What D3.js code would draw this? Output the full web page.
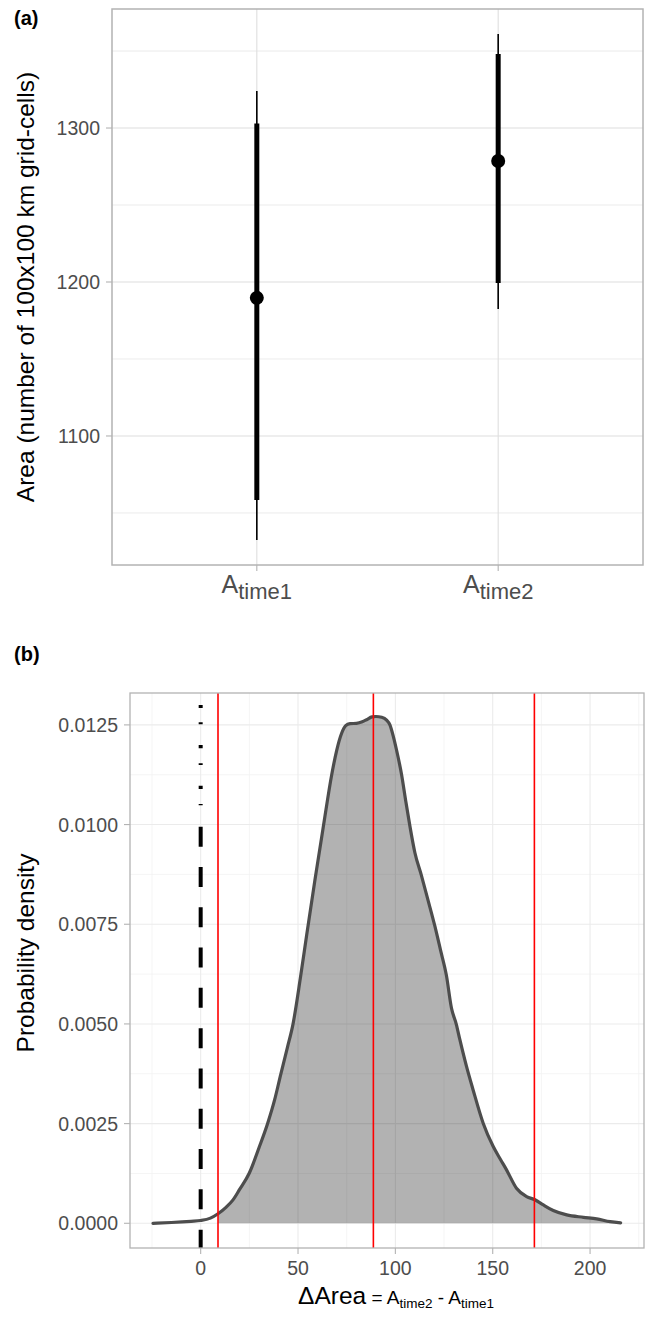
<!DOCTYPE html>
<html>
<head>
<meta charset="utf-8">
<script src="https://cdn.jsdelivr.net/npm/d3@7"></script>
<style>
  body { margin: 0; background: #fff; }
  text { font-family: "Liberation Sans", Arial, sans-serif; }
</style>
</head>
<body>
<svg id="chart" width="646" height="1318"></svg>
<script>

// Panel (a) data: area estimates per time step
const timeLabels = ['time1', 'time2']
const areaMedian = [1189.7, 1278.6]
const areaInnerLow = [1058.4, 1199.4]
const areaInnerHigh = [1303, 1348]
const areaOuterLow = [1032.5, 1182.5]
const areaOuterHigh = [1324, 1361]
const areaTicks = [1100, 1200, 1300]
const areaMinorTicks = [1050, 1150, 1250, 1350]

// Panel (b) data: posterior density of the change in area
const deltaX = [-24.5, -15, -5, 0, 5, 8.9, 13, 16.5, 20, 25, 30, 34.3, 38, 41.1, 44.5, 47.4, 51.2, 54.5,
    58.8, 63.1, 67.3, 69.9, 72.4, 74.5, 76.7, 80, 83, 85.2, 88, 90, 93, 95.5, 97.2, 99, 100.6, 103.2,
    105.3, 107.4, 110, 113.4, 116.8, 120.2, 123.2, 126.2, 128.8, 131.3, 133.1, 136.5, 139.9, 145.1,
    150.2, 154, 157.1, 162.2, 167.4, 171.7, 176, 181.1, 188, 196.6, 203.4, 210.3, 215.7]
const deltaDensity = [0, 0.00002, 0.00005, 0.00007, 0.00013, 0.00024, 0.0004, 0.00058, 0.00085, 0.00126,
    0.0019, 0.00249, 0.0031, 0.00373, 0.0044, 0.00499, 0.00615, 0.00725, 0.00865, 0.00998, 0.01125,
    0.01187, 0.01229, 0.01248, 0.01253, 0.01254, 0.01258, 0.01263, 0.0127, 0.01271, 0.01269, 0.01262,
    0.0125, 0.0122, 0.01187, 0.01125, 0.0106, 0.00998, 0.0093, 0.00872, 0.0081, 0.00747, 0.00685,
    0.00622, 0.0054, 0.00499, 0.00461, 0.00394, 0.00335, 0.00251, 0.00193, 0.0016, 0.00134, 0.00088,
    0.00067, 0.00059, 0.00046, 0.00032, 0.00021, 0.00015, 0.00011, 0.00004, 0.00001]
const deltaInterval = [8.9, 88.7, 171.4]
const deltaXTicks = [0, 50, 100, 150, 200]
const deltaXMinorTicks = [-25, 25, 75, 125, 175, 225]
const densityTicks = [0, 0.0025, 0.005, 0.0075, 0.01, 0.0125]
const densityMinorTicks = [0.00125, 0.00375, 0.00625, 0.00875, 0.01125]

const svg = d3.select('#chart')
const borderColor = '#b3b3b3'
const tickTextColor = '#4d4d4d'

// ---------- Panel (a) ----------
const a = {left: 112, right: 643, top: 9, bottom: 565}

const xA = d3.scalePoint()
    .domain(timeLabels)
    .range([a.left, a.right])
    .padding(0.6)

const yA = d3.scaleLinear()
    .domain([1016.2, 1377.3])
    .range([a.bottom, a.top])

const gA = svg.append('g').classed('panel-a', true)

// Grid
gA.selectAll('line.minor-y')
    .data(areaMinorTicks)
    .enter()
    .append('line')
    .attr('x1', a.left).attr('x2', a.right)
    .attr('y1', d => yA(d)).attr('y2', d => yA(d))
    .style('stroke', '#e6e6e6')
    .style('stroke-width', 0.8)

gA.selectAll('line.major-y')
    .data(areaTicks)
    .enter()
    .append('line')
    .attr('x1', a.left).attr('x2', a.right)
    .attr('y1', d => yA(d)).attr('y2', d => yA(d))
    .style('stroke', '#dedede')
    .style('stroke-width', 1.1)

gA.selectAll('line.major-x')
    .data(timeLabels)
    .enter()
    .append('line')
    .attr('x1', d => xA(d)).attr('x2', d => xA(d))
    .attr('y1', a.top).attr('y2', a.bottom)
    .style('stroke', '#dedede')
    .style('stroke-width', 1.1)

// Intervals
gA.selectAll('line.outer')
    .data(timeLabels)
    .enter()
    .append('line')
    .attr('x1', d => xA(d)).attr('x2', d => xA(d))
    .attr('y1', (_, i) => yA(areaOuterLow[i]))
    .attr('y2', (_, i) => yA(areaOuterHigh[i]))
    .style('stroke', '#000')
    .style('stroke-width', 1.6)

gA.selectAll('line.inner')
    .data(timeLabels)
    .enter()
    .append('line')
    .attr('x1', d => xA(d)).attr('x2', d => xA(d))
    .attr('y1', (_, i) => yA(areaInnerLow[i]))
    .attr('y2', (_, i) => yA(areaInnerHigh[i]))
    .style('stroke', '#000')
    .style('stroke-width', 5)

gA.selectAll('circle.median')
    .data(timeLabels)
    .enter()
    .append('circle')
    .attr('cx', d => xA(d))
    .attr('cy', (_, i) => yA(areaMedian[i]))
    .attr('r', 7)
    .style('fill', '#000')

// Border
gA.append('rect')
    .attr('x', a.left).attr('y', a.top)
    .attr('width', a.right - a.left).attr('height', a.bottom - a.top)
    .style('fill', 'none')
    .style('stroke', borderColor)
    .style('stroke-width', 1.5)

// Y axis ticks and labels
gA.selectAll('line.ytick')
    .data(areaTicks)
    .enter()
    .append('line')
    .attr('x1', a.left - 6).attr('x2', a.left)
    .attr('y1', d => yA(d)).attr('y2', d => yA(d))
    .style('stroke', borderColor)
    .style('stroke-width', 1.1)

gA.selectAll('text.ylabel')
    .data(areaTicks)
    .enter()
    .append('text')
    .attr('x', a.left - 12)
    .attr('y', d => yA(d))
    .attr('dy', '0.36em')
    .attr('text-anchor', 'end')
    .style('font-size', '19.5px')
    .style('fill', tickTextColor)
    .text(d => d)

// X axis ticks and labels
gA.selectAll('line.xtick')
    .data(timeLabels)
    .enter()
    .append('line')
    .attr('x1', d => xA(d)).attr('x2', d => xA(d))
    .attr('y1', a.bottom).attr('y2', a.bottom + 6)
    .style('stroke', borderColor)
    .style('stroke-width', 1.1)

const xLabA = gA.selectAll('text.xlabel')
    .data(timeLabels)
    .enter()
    .append('text')
    .attr('x', d => xA(d))
    .attr('y', a.bottom + 28)
    .attr('text-anchor', 'middle')
    .style('fill', tickTextColor)

xLabA.append('tspan').style('font-size', '25px').text('A')
xLabA.append('tspan').attr('dy', 6).style('font-size', '22px').text(d => d)

// Axis title
gA.append('text')
    .attr('transform', 'translate(34,' + ((a.top + a.bottom) / 2) + ') rotate(-90)')
    .attr('text-anchor', 'middle')
    .style('font-size', '24.5px')
    .style('fill', '#000')
    .text('Area (number of 100x100 km grid-cells)')

svg.append('text')
    .attr('x', 14).attr('y', 25)
    .style('font-size', '20px')
    .style('font-weight', 'bold')
    .text('(a)')

// ---------- Panel (b) ----------
const b = {left: 130, right: 644, top: 693, bottom: 1248}

const xB = d3.scaleLinear()
    .domain([-36.3, 227.7])
    .range([b.left, b.right])

const yB = d3.scaleLinear()
    .domain([-0.00062, 0.0133])
    .range([b.bottom, b.top])

const gB = svg.append('g').classed('panel-b', true)

gB.append('clipPath').attr('id', 'clip-b')
    .append('rect')
    .attr('x', b.left).attr('y', b.top)
    .attr('width', b.right - b.left).attr('height', b.bottom - b.top)

// Grid
gB.selectAll('line.minor-y')
    .data(densityMinorTicks)
    .enter()
    .append('line')
    .attr('x1', b.left).attr('x2', b.right)
    .attr('y1', d => yB(d)).attr('y2', d => yB(d))
    .style('stroke', '#f2f2f2')
    .style('stroke-width', 0.8)

gB.selectAll('line.minor-x')
    .data(deltaXMinorTicks)
    .enter()
    .append('line')
    .attr('x1', d => xB(d)).attr('x2', d => xB(d))
    .attr('y1', b.top).attr('y2', b.bottom)
    .style('stroke', '#f2f2f2')
    .style('stroke-width', 0.8)

gB.selectAll('line.major-y')
    .data(densityTicks)
    .enter()
    .append('line')
    .attr('x1', b.left).attr('x2', b.right)
    .attr('y1', d => yB(d)).attr('y2', d => yB(d))
    .style('stroke', '#ebebeb')
    .style('stroke-width', 1.1)

gB.selectAll('line.major-x')
    .data(deltaXTicks)
    .enter()
    .append('line')
    .attr('x1', d => xB(d)).attr('x2', d => xB(d))
    .attr('y1', b.top).attr('y2', b.bottom)
    .style('stroke', '#ebebeb')
    .style('stroke-width', 1.1)

// Density
const densityPoints = deltaX.map((x, i) => ({x: x, y: deltaDensity[i]}))
const shadedPoints = densityPoints.filter(p => p.x >= deltaInterval[0])

const densityArea = d3.area()
    .x(d => xB(d.x))
    .y0(yB(0))
    .y1(d => yB(d.y))
    .curve(d3.curveMonotoneX)

const densityLine = d3.line()
    .x(d => xB(d.x))
    .y(d => yB(d.y))
    .curve(d3.curveMonotoneX)

gB.append('path')
    .datum(shadedPoints)
    .attr('d', densityArea)
    .style('fill', '#000')
    .style('fill-opacity', 0.3)

gB.append('path')
    .datum(densityPoints)
    .attr('d', densityLine)
    .style('fill', 'none')
    .style('stroke', '#4d4d4d')
    .style('stroke-width', 3.2)
    .style('stroke-linejoin', 'round')
    .style('stroke-linecap', 'round')

// Interval lines
gB.selectAll('line.interval')
    .data(deltaInterval)
    .enter()
    .append('line')
    .attr('x1', d => xB(d)).attr('x2', d => xB(d))
    .attr('y1', b.top).attr('y2', b.bottom)
    .style('stroke', '#ff0000')
    .style('stroke-width', 1.6)

// Zero line (dotted start, dashed after)
const zeroDash = [3, 14.3, 2, 20.7, 3.3, 15, 1.7, 20.7, 3.3, 15, 1.3, 21.4]
    .concat(d3.range(12).flatMap(() => [20, 20.3]))

gB.append('line')
    .attr('clip-path', 'url(#clip-b)')
    .attr('x1', xB(0)).attr('x2', xB(0))
    .attr('y1', yB(0.013)).attr('y2', b.bottom)
    .style('stroke', '#000')
    .style('stroke-width', 4)
    .style('stroke-dasharray', zeroDash.join(' '))

// Border
gB.append('rect')
    .attr('x', b.left).attr('y', b.top)
    .attr('width', b.right - b.left).attr('height', b.bottom - b.top)
    .style('fill', 'none')
    .style('stroke', borderColor)
    .style('stroke-width', 1.3)

// Y axis
gB.selectAll('line.ytick')
    .data(densityTicks)
    .enter()
    .append('line')
    .attr('x1', b.left - 6).attr('x2', b.left)
    .attr('y1', d => yB(d)).attr('y2', d => yB(d))
    .style('stroke', borderColor)
    .style('stroke-width', 1.1)

gB.selectAll('text.ylabel')
    .data(densityTicks)
    .enter()
    .append('text')
    .attr('x', b.left - 12)
    .attr('y', d => yB(d))
    .attr('dy', '0.36em')
    .attr('text-anchor', 'end')
    .style('font-size', '19.5px')
    .style('fill', tickTextColor)
    .text(d => d3.format('.4f')(d))

// X axis
gB.selectAll('line.xtick')
    .data(deltaXTicks)
    .enter()
    .append('line')
    .attr('x1', d => xB(d)).attr('x2', d => xB(d))
    .attr('y1', b.bottom).attr('y2', b.bottom + 6)
    .style('stroke', borderColor)
    .style('stroke-width', 1.1)

gB.selectAll('text.xlabel')
    .data(deltaXTicks)
    .enter()
    .append('text')
    .attr('x', d => xB(d))
    .attr('y', b.bottom + 27)
    .attr('text-anchor', 'middle')
    .style('font-size', '19.5px')
    .style('fill', tickTextColor)
    .text(d => d)

// Axis titles
const xTitleB = gB.append('text')
    .attr('x', 396)
    .attr('y', 1304)
    .attr('text-anchor', 'middle')
    .style('fill', '#000')

xTitleB.append('tspan').style('font-size', '24.5px').text('ΔArea')
xTitleB.append('tspan').style('font-size', '19px').text(' = A')
xTitleB.append('tspan').attr('dy', 4).style('font-size', '13.5px').text('time2')
xTitleB.append('tspan').attr('dy', -4).style('font-size', '19px').text(' - A')
xTitleB.append('tspan').attr('dy', 4).style('font-size', '13.5px').text('time1')

gB.append('text')
    .attr('transform', 'translate(34,953) rotate(-90)')
    .attr('text-anchor', 'middle')
    .style('font-size', '24.5px')
    .style('fill', '#000')
    .text('Probability density')

svg.append('text')
    .attr('x', 14).attr('y', 661)
    .style('font-size', '20px')
    .style('font-weight', 'bold')
    .text('(b)')

</script>
</body>
</html>
